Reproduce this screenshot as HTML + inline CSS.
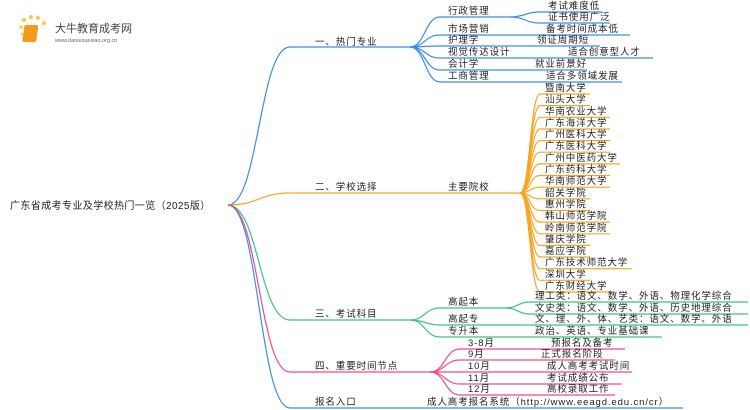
<!DOCTYPE html>
<html><head><meta charset="utf-8"><style>
html,body{margin:0;padding:0;background:#fff;}
svg{display:block;font-family:"Liberation Sans","Noto Sans CJK SC",sans-serif;}
text{font-size:9.5px;fill:#222;letter-spacing:0.9px;}
</style></head><body>
<svg width="750" height="410" viewBox="0 0 750 410" xmlns="http://www.w3.org/2000/svg">
<g>
<circle cx="24" cy="20" r="2" fill="#f7c948"/><circle cx="31" cy="17" r="2" fill="#f7c948"/><circle cx="38" cy="18" r="2" fill="#f7c948"/><circle cx="44" cy="23" r="2" fill="#f7c948"/><circle cx="21" cy="27" r="1.6" fill="#f7c948"/><circle cx="22" cy="34" r="1.4" fill="#f7c948"/>
<rect x="28" y="25" width="14" height="17" rx="2" fill="#f39a1e" transform="skewX(-8)"/>
<text x="55" y="32" style="font-size:11px;fill:#444;letter-spacing:0">大牛教育成考网</text>
<text x="55" y="42" style="font-size:5.5px;fill:#666;letter-spacing:0">www.daniuxuexiao.org.cn</text>
</g>
<text x="10" y="209" style="font-size:10px;letter-spacing:0.4px">广东省成考专业及学校热门一览（2025版）</text>
<g fill="none" stroke-width="1.2">
<g stroke="#3a8ee6">
<path d="M228 205 C259 205 259 47 290 47 H410"/>
<path d="M228 205 C259 205 259 408 290 408 H683"/>
<path d="M410 47 C425 47 425 17 440 17 H510"/>
<path d="M410 47 C425 47 425 35 440 35 H630"/>
<path d="M410 47 C425 47 425 46 440 46 H600"/>
<path d="M410 47 C425 47 425 58 440 58 H653"/>
<path d="M410 47 C425 47 425 70 440 70 H587"/>
<path d="M410 47 C425 47 425 82 440 82 H622"/>
<path d="M510 17 C525 17 525 12 540 12 H602"/>
<path d="M510 17 C525 17 525 23 540 23 H610"/>
</g>
<g stroke="#f5a623">
<path d="M228 205 C259 205 259 193 290 193 H520"/>
<path d="M520 193 C530 193 530 94 540 94 H590"/>
<path d="M520 193 C530 193 530 105.6 540 105.6 H590"/>
<path d="M520 193 C530 193 530 117.3 540 117.3 H610"/>
<path d="M520 193 C530 193 530 129 540 129 H610"/>
<path d="M520 193 C530 193 530 140.6 540 140.6 H610"/>
<path d="M520 193 C530 193 530 152.2 540 152.2 H610"/>
<path d="M520 193 C530 193 530 163.9 540 163.9 H620"/>
<path d="M520 193 C530 193 530 175.5 540 175.5 H610"/>
<path d="M520 193 C530 193 530 187.2 540 187.2 H610"/>
<path d="M520 193 C530 193 530 198.8 540 198.8 H590"/>
<path d="M520 193 C530 193 530 210.5 540 210.5 H590"/>
<path d="M520 193 C530 193 530 222.1 540 222.1 H610"/>
<path d="M520 193 C530 193 530 233.8 540 233.8 H610"/>
<path d="M520 193 C530 193 530 245.4 540 245.4 H590"/>
<path d="M520 193 C530 193 530 257 540 257 H590"/>
<path d="M520 193 C530 193 530 268.7 540 268.7 H632"/>
<path d="M520 193 C530 193 530 280.3 540 280.3 H590"/>
<path d="M520 193 C530 193 530 292 540 292 H610"/>
</g>
<g stroke="#3cc47c">
<path d="M228 205 C259 205 259 320 290 320 H410"/>
<path d="M410 320 C425 320 425 308 440 308 H505"/>
<path d="M410 320 C425 320 425 325 440 325 H748"/>
<path d="M410 320 C425 320 425 337 440 337 H662"/>
<path d="M505 308 C518 308 518 302 530 302 H748"/>
<path d="M505 308 C518 308 518 314 530 314 H748"/>
</g>
<g stroke="#ee4a8c">
<path d="M228 205 C259 205 259 372 290 372 H430"/>
<path d="M430 372 C445 372 445 349 460 349 H625"/>
<path d="M430 372 C445 372 445 360 460 360 H615"/>
<path d="M430 372 C445 372 445 372 460 372 H632"/>
<path d="M430 372 C445 372 445 384 460 384 H622"/>
<path d="M430 372 C445 372 445 395 460 395 H615"/>
</g>
</g>
<text x="315" y="45">一、热门专业</text>
<text x="448" y="14">行政管理</text>
<text x="548" y="9">考试难度低</text>
<text x="548" y="20">证书使用广泛</text>
<text x="448" y="32">市场营销</text>
<text x="546" y="32">备考时间成本低</text>
<text x="448" y="43">护理学</text>
<text x="537" y="43">领证周期短</text>
<text x="448" y="55">视觉传达设计</text>
<text x="568" y="55">适合创意型人才</text>
<text x="448" y="67">会计学</text>
<text x="535" y="67">就业前景好</text>
<text x="448" y="79">工商管理</text>
<text x="546" y="79">适合多领域发展</text>

<text x="315" y="190">二、学校选择</text>
<text x="448" y="190">主要院校</text>
<text x="545" y="91">暨南大学</text>
<text x="545" y="102.6">汕头大学</text>
<text x="545" y="114.3">华南农业大学</text>
<text x="545" y="125.9">广东海洋大学</text>
<text x="545" y="137.6">广州医科大学</text>
<text x="545" y="149.2">广东医科大学</text>
<text x="545" y="160.9">广州中医药大学</text>
<text x="545" y="172.5">广东药科大学</text>
<text x="545" y="184.2">华南师范大学</text>
<text x="545" y="195.8">韶关学院</text>
<text x="545" y="207.5">惠州学院</text>
<text x="545" y="219.1">韩山师范学院</text>
<text x="545" y="230.8">岭南师范学院</text>
<text x="545" y="242.4">肇庆学院</text>
<text x="545" y="254">嘉应学院</text>
<text x="545" y="265.7">广东技术师范大学</text>
<text x="545" y="277.3">深圳大学</text>
<text x="545" y="289">广东财经大学</text>

<text x="315" y="317">三、考试科目</text>
<text x="448" y="305">高起本</text>
<text x="535" y="299">理工类：语文、数学、外语、物理化学综合</text>
<text x="535" y="311">文史类：语文、数学、外语、历史地理综合</text>
<text x="448" y="322">高起专</text>
<text x="535" y="322">文、理、外、体、艺类：语文、数学、外语</text>
<text x="448" y="334">专升本</text>
<text x="535" y="334">政治、英语、专业基础课</text>

<text x="315" y="369">四、重要时间节点</text>
<text x="468" y="346">3-8月</text>
<text x="551" y="346">预报名及备考</text>
<text x="468" y="357">9月</text>
<text x="541" y="357">正式报名阶段</text>
<text x="468" y="369">10月</text>
<text x="547" y="369">成人高考考试时间</text>
<text x="468" y="381">11月</text>
<text x="547" y="381">考试成绩公布</text>
<text x="468" y="392">12月</text>
<text x="547" y="392">高校录取工作</text>

<text x="315" y="405">报名入口</text>
<text x="427" y="405">成人高考报名系统（http://www.eeagd.edu.cn/cr）</text>
</svg>
</body></html>
